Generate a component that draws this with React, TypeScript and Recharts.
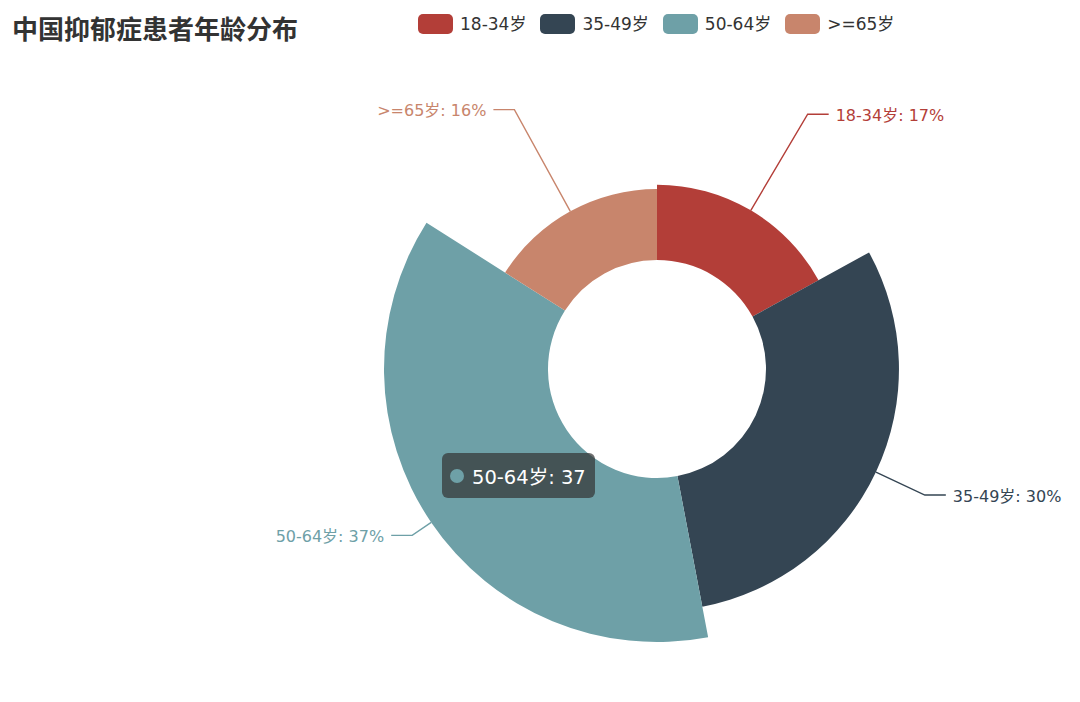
import React from "react";
import { PieChart, Pie, Sector, Tooltip } from "recharts";

// Age groups and their share (value = patients per 100)
const categories = ["18-34岁", "35-49岁", "50-64岁", ">=65岁"];
const values = [17, 30, 37, 16];
const colors = ["#b33e38", "#344553", "#6ea0a7", "#c8856c"];

const data = categories.map((name, i) => ({ name, value: values[i], fill: colors[i] }));

const CX = 657;
const CY = 369;
const INNER = 109;
const OUTER = 273;
const ELBOW = 296;
const RADIAN = Math.PI / 180;
const FONT = '"DejaVu Sans", "Noto Sans CJK SC", sans-serif';
const TITLE_FONT = '"Noto Sans CJK SC", sans-serif';

const maxValue = Math.max(...values);
// rose type: radius grows with the value
const radiusOf = (v: number) => INNER + ((OUTER - INNER) * v) / maxValue;

const RoseSector = (props: any) => {
  const v = props.payload?.value ?? props.value;
  return <Sector {...props} outerRadius={radiusOf(v)} stroke="none" />;
};

const renderLabel = (props: any) => {
  const { cx, cy, midAngle, percent, payload, index } = props;
  const v = payload?.value ?? values[index];
  const color = colors[index];
  const r = radiusOf(v);
  const cos = Math.cos(-midAngle * RADIAN);
  const sin = Math.sin(-midAngle * RADIAN);
  const x1 = cx + r * cos;
  const y1 = cy + r * sin;
  const x2 = cx + ELBOW * cos;
  const y2 = cy + ELBOW * sin;
  const right = cos >= 0;
  const x3 = x2 + (right ? 21 : -21);
  const tx = x3 + (right ? 7 : -7);
  return (
    <g>
      <polyline
        points={`${x1},${y1} ${x2},${y2} ${x3},${y2}`}
        fill="none"
        stroke={color}
        strokeWidth={1.4}
      />
      <text
        x={tx}
        y={y2 + 1}
        fill={color}
        fontSize={16}
        fontFamily={FONT}
        textAnchor={right ? "start" : "end"}
        dominantBaseline="central"
      >
        {`${payload?.name ?? categories[index]}: ${Math.round(percent * 100)}%`}
      </text>
    </g>
  );
};

const LegendBar = () => (
  <div
    style={{
      position: "absolute",
      left: 418,
      top: 14,
      display: "flex",
      alignItems: "center",
      fontFamily: FONT,
      fontSize: 17,
      color: "#333",
      whiteSpace: "nowrap",
    }}
  >
    {categories.map((c, i) => (
      <div key={c} style={{ display: "flex", alignItems: "center", marginRight: 14 }}>
        <div style={{ width: 35, height: 20, borderRadius: 5, background: colors[i], marginRight: 7 }} />
        <span style={{ lineHeight: "20px" }}>{c}</span>
      </div>
    ))}
  </div>
);

const TooltipContent = ({ payload }: any) => {
  const item = payload && payload.length ? payload[0] : { name: categories[2], value: values[2] };
  const idx = categories.indexOf(item.name);
  return (
    <div
      style={{
        background: "rgba(50,50,50,0.7)",
        borderRadius: 6,
        height: 45,
        boxSizing: "border-box",
        padding: "0 9px 0 8px",
        display: "flex",
        alignItems: "center",
        color: "#fff",
        fontFamily: FONT,
        fontSize: 19.5,
        whiteSpace: "nowrap",
      }}
    >
      <span
        style={{
          display: "inline-block",
          width: 14,
          height: 14,
          borderRadius: 7,
          background: colors[idx >= 0 ? idx : 2],
          marginRight: 8,
        }}
      />
      {`${item.name}: ${item.value}`}
    </div>
  );
};

export default function App() {
  return (
    <div style={{ position: "absolute", left: 0, top: 0, width: 1080, height: 702, background: "#fff" }}>
      <div
        style={{
          position: "absolute",
          left: 12,
          top: 13,
          fontSize: 26,
          lineHeight: "30px",
          fontWeight: "bold",
          color: "#333",
          fontFamily: TITLE_FONT,
        }}
      >
        中国抑郁症患者年龄分布
      </div>
      <LegendBar />
      <PieChart width={1080} height={702} margin={{ top: 0, right: 0, bottom: 0, left: 0 }}>
        <Pie
          data={data}
          dataKey="value"
          nameKey="name"
          cx={CX}
          cy={CY}
          innerRadius={INNER}
          outerRadius={OUTER}
          startAngle={90}
          endAngle={-270}
          stroke="none"
          shape={RoseSector}
          label={renderLabel}
          labelLine={false}
          isAnimationActive={false}
        />
        <Tooltip
          content={<TooltipContent />}
          defaultIndex={2}
          active={true}
          position={{ x: 442, y: 453 }}
          isAnimationActive={false}
          wrapperStyle={{ outline: "none" }}
        />
      </PieChart>
    </div>
  );
}
